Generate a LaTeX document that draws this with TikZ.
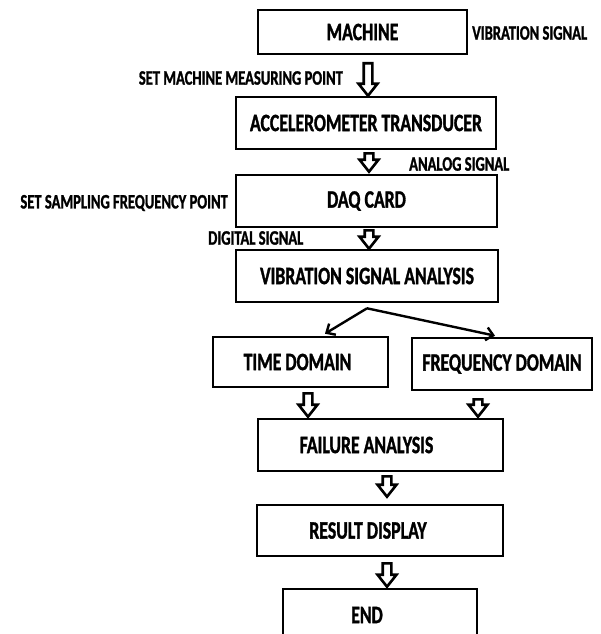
\documentclass[tikz,border=0pt]{standalone}
\usepackage{fontspec}
\newfontfamily\chartfont{Carlito Bold}[FakeStretch=0.71, FakeBold=1.2]
\usetikzlibrary{arrows.meta,calc}
\newcommand{\shiftleft}[2]{\hspace*{-#1}#2}

\begin{document}
\begin{tikzpicture}[x=1pt, y=-1pt, >={Straight Barb[length=7pt,width=13pt]},
		blk/.style={draw, line width=2.6pt, inner sep=0pt, font=\fontsize{25}{29}\chartfont},
		lbl/.style={inner sep=0pt, font=\fontsize{20.5}{24}\chartfont},
		harrow/.style={draw, fill=white, line width=2.6pt, line join=miter,
			to path={let \p1=(\tikztostart), \p2=(\tikztotarget) in
				(\x1-4.3pt,\y1) -- (\x1+4.3pt,\y1) -- (\x1+4.3pt,\y2+12pt) -- (\x1+9.5pt,\y2+12pt)
				-- (\x1,\y2) -- (\x1-9.5pt,\y2+12pt) -- (\x1-4.3pt,\y2+12pt) -- cycle}}]
			\clip (0,0) rectangle (600,634);
			\node[blk, minimum width=209pt, minimum height=44pt] (mach) at (362.5,32) {MACHINE};
			\node[blk, minimum width=260pt, minimum height=52pt] (accel) at (366,123) {ACCELEROMETER TRANSDUCER};
			\node[blk, minimum width=261pt, minimum height=52pt] (daq) at (366.5,201) {DAQ CARD};
			\node[blk, minimum width=262pt, minimum height=52pt] (vsa) at (367,276) {VIBRATION SIGNAL ANALYSIS};
			\node[blk, minimum width=175pt, minimum height=50pt] (time) at (300.5,362) {\shiftleft{6pt}{TIME DOMAIN}};
			\node[blk, minimum width=180pt, minimum height=52pt] (freq) at (502,364) {FREQUENCY DOMAIN};
			\node[blk, minimum width=245pt, minimum height=52pt] (fail) at (380.5,445) {\shiftleft{28pt}{FAILURE ANALYSIS}};
			\node[blk, minimum width=246pt, minimum height=51pt] (result) at (380,530.5) {\shiftleft{24pt}{RESULT DISPLAY}};
			\node[blk, minimum width=194pt, minimum height=52pt] (endb) at (380,615) {\shiftleft{26pt}{END}};
			\node[lbl, anchor=west] (vib) at (472,33) {VIBRATION SIGNAL};
			\node[lbl, anchor=east] (setm) at (343,78) {SET MACHINE MEASURING POINT};
			\node[lbl, anchor=west] (ana) at (409,164) {ANALOG SIGNAL};
			\node[lbl, anchor=east] (sets) at (228,203) {SET SAMPLING FREQUENCY POINT};
			\node[lbl, anchor=west] (dig) at (208,238) {DIGITAL SIGNAL};
			\draw[harrow] ([xshift=5.5pt,yshift=-8pt]mach.south) to (accel.north);
			\draw[harrow] ([xshift=3pt,yshift=-3pt]accel.south) to ([yshift=2pt]daq.north);
			\draw[harrow] ([xshift=2.5pt,yshift=-2pt]daq.south) to (vsa.north);
			\draw[harrow] ([xshift=7.5pt,yshift=-5pt]time.south) to ([yshift=1pt]fail.north);
			\draw[harrow] ([xshift=-24pt,yshift=-8pt]freq.south) to ([yshift=1pt]fail.north);
			\draw[harrow] ([xshift=6.5pt,yshift=-4pt]fail.south) to ([yshift=7pt]result.north);
			\draw[harrow] ([xshift=7pt,yshift=-6pt]result.south) to ([yshift=1pt]endb.north);
			\draw[->, line width=2.4pt] ([yshift=-5pt]vsa.south) -- ([xshift=24.5pt,yshift=2pt]time.north);
			\draw[->, line width=2.4pt] ([yshift=-5pt]vsa.south) -- ([xshift=-7pt,yshift=1pt]freq.north);
		\end{tikzpicture}
\end{document}
